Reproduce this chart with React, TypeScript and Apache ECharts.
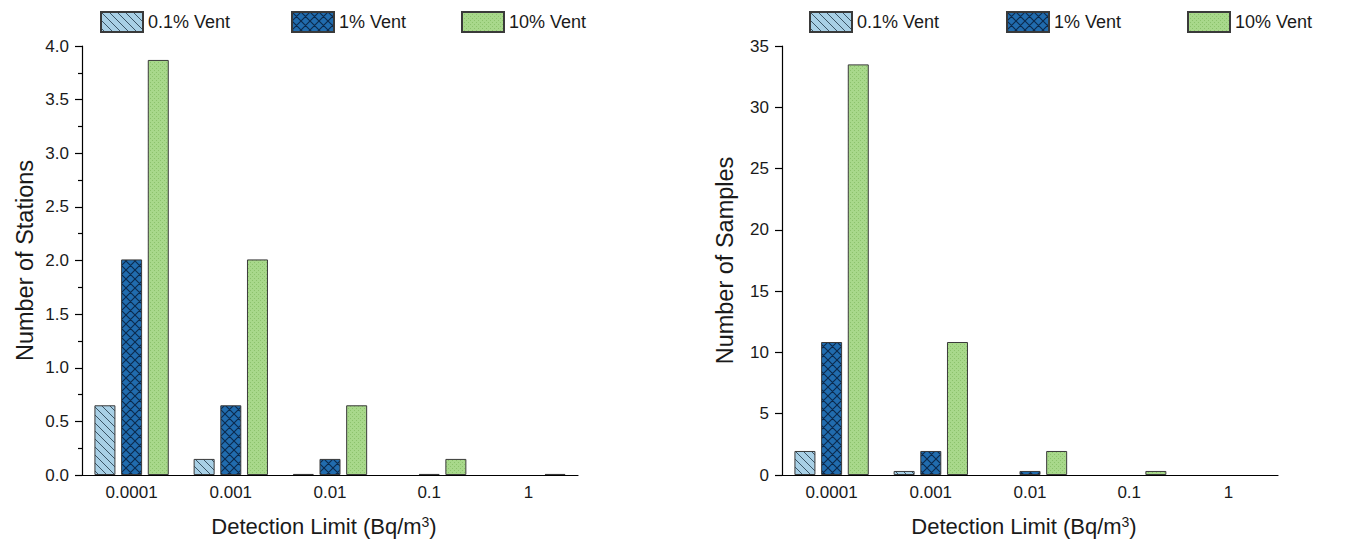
import React, { useEffect, useRef } from 'react';
import * as echarts from 'echarts';

const categories = ['0.0001', '0.001', '0.01', '0.1', '1'];
const seriesNames = ['0.1% Vent', '1% Vent', '10% Vent'];

// Left chart: Number of Stations
const stationsVent01 = [0.65, 0.15, 0.01, 0, 0];
const stationsVent1 = [2.01, 0.65, 0.15, 0.01, 0];
const stationsVent10 = [3.87, 2.01, 0.65, 0.15, 0.01];

// Right chart: Number of Samples
const samplesVent01 = [1.96, 0.33, 0, 0, 0];
const samplesVent1 = [10.85, 1.96, 0.33, 0, 0];
const samplesVent10 = [33.5, 10.85, 1.96, 0.33, 0];

const FONT = "'Liberation Sans', Arial, Helvetica, sans-serif";
const TEXT = '#1a1a1a';

function makePattern(kind: string) {
  const s = kind === 'dots' ? 4 : kind === 'cross' ? 9 : 8;
  const c = document.createElement('canvas');
  c.width = s;
  c.height = s;
  const ctx = c.getContext('2d') as CanvasRenderingContext2D;
  if (kind === 'diag') {
    ctx.fillStyle = '#a8d0e6';
    ctx.fillRect(0, 0, s, s);
    ctx.strokeStyle = '#3a5466';
    ctx.lineWidth = 1;
    ctx.beginPath();
    ctx.moveTo(-1, -1);
    ctx.lineTo(s + 1, s + 1);
    ctx.moveTo(-1, s - 1);
    ctx.lineTo(1, s + 1);
    ctx.moveTo(s - 1, -1);
    ctx.lineTo(s + 1, 1);
    ctx.stroke();
  } else if (kind === 'cross') {
    ctx.fillStyle = '#216cae';
    ctx.fillRect(0, 0, s, s);
    ctx.strokeStyle = '#0c2a4c';
    ctx.lineWidth = 1.1;
    ctx.beginPath();
    ctx.moveTo(-1, -1);
    ctx.lineTo(s + 1, s + 1);
    ctx.moveTo(-1, s + 1);
    ctx.lineTo(s + 1, -1);
    ctx.moveTo(-1, s - 1);
    ctx.lineTo(1, s + 1);
    ctx.moveTo(s - 1, -1);
    ctx.lineTo(s + 1, 1);
    ctx.moveTo(-1, 1);
    ctx.lineTo(1, -1);
    ctx.moveTo(s - 1, s + 1);
    ctx.lineTo(s + 1, s - 1);
    ctx.stroke();
  } else {
    ctx.fillStyle = '#a8d88b';
    ctx.fillRect(0, 0, s, s);
    ctx.fillStyle = '#8cc26c';
    ctx.fillRect(0, 0, 1, 1);
    ctx.fillRect(2, 2, 1, 1);
  }
  return { image: c.toDataURL(), repeat: 'repeat', imageWidth: s, imageHeight: s };
}

export default function App() {
  const ref = useRef<HTMLDivElement>(null);

  useEffect(() => {
    if (!ref.current) return;
    const chart = echarts.init(ref.current, undefined, { renderer: 'svg' });
    const patterns = [makePattern('diag'), makePattern('cross'), makePattern('dots')];

    const barItem = (i: number) => ({
      color: patterns[i] as any,
      borderColor: '#3a3a3a',
      borderWidth: 1,
    });

    // zero values draw no bar at all, as in the reference
    const mkSeries = (name: string, data: number[], i: number, gi: number) => ({
      type: 'bar',
      name,
      data: data.map((v) => (v === 0 ? null : v)),
      xAxisIndex: gi,
      yAxisIndex: gi,
      barWidth: 21,
      barGap: '27%',
      itemStyle: barItem(i),
      emphasis: { disabled: true },
    });

    const xAxisBase = (gi: number) => ({
      type: 'category',
      gridIndex: gi,
      data: categories,
      axisLine: { lineStyle: { color: '#000', width: 1.2 } },
      axisTick: { show: false },
      axisLabel: { fontSize: 17, color: TEXT, margin: 9, fontFamily: FONT },
      name: 'Detection Limit (Bq/m{sup|3})',
      nameLocation: 'middle',
      nameGap: 40,
      nameTextStyle: {
        fontSize: 22,
        color: TEXT,
        fontFamily: FONT,
        padding: [0, 12, 0, 0],
        rich: {
          sup: { fontSize: 14, color: TEXT, fontFamily: FONT, verticalAlign: 'top', lineHeight: 22 },
        },
      },
    });

    const yAxisBase = (gi: number, name: string, max: number, interval: number, minor: boolean, dec: number) => ({
      type: 'value',
      gridIndex: gi,
      min: 0,
      max,
      interval,
      axisLine: { show: true, lineStyle: { color: '#000', width: 1.2 } },
      axisTick: { show: true, length: 7, lineStyle: { color: '#000', width: 1.2 } },
      minorTick: { show: minor, splitNumber: 2, length: 4, lineStyle: { color: '#000', width: 1.2 } },
      splitLine: { show: false },
      minorSplitLine: { show: false },
      axisLabel: {
        fontSize: 17,
        color: TEXT,
        margin: 13,
        fontFamily: FONT,
        formatter: (v: number) => v.toFixed(dec),
      },
      name,
      nameLocation: 'middle',
      nameGap: 45,
      nameTextStyle: { fontSize: 23.5, color: TEXT, fontFamily: FONT },
    });

    const legendPos = [
      [100, 291, 461],
      [809, 1006, 1187],
    ];
    const legends: any[] = [];
    legendPos.forEach((row) => {
      row.forEach((x, i) => {
        legends.push({
          data: [seriesNames[i]],
          left: x,
          top: 11,
          padding: 0,
          itemWidth: 42,
          itemHeight: 20,
          icon: 'rect',
          textStyle: { fontSize: 18, color: TEXT, fontFamily: FONT },
        });
      });
    });

    chart.setOption({
      animation: false,
      textStyle: { fontFamily: FONT },
      legend: legends,
      grid: [
        { left: 82, top: 46, width: 496, height: 429 },
        { left: 782, top: 46, width: 496, height: 429 },
      ],
      xAxis: [xAxisBase(0), xAxisBase(1)],
      yAxis: [
        yAxisBase(0, 'Number of Stations', 4, 0.5, true, 1),
        yAxisBase(1, 'Number of Samples', 35, 5, false, 0),
      ],
      series: [
        mkSeries(seriesNames[0], stationsVent01, 0, 0),
        mkSeries(seriesNames[1], stationsVent1, 1, 0),
        mkSeries(seriesNames[2], stationsVent10, 2, 0),
        mkSeries(seriesNames[0], samplesVent01, 0, 1),
        mkSeries(seriesNames[1], samplesVent1, 1, 1),
        mkSeries(seriesNames[2], samplesVent10, 2, 1),
      ],
    } as any);

    return () => chart.dispose();
  }, []);

  return (
    <div
      ref={ref}
      style={{ position: 'absolute', left: 0, top: 0, width: 1350, height: 542, background: '#fff' }}
    />
  );
}
